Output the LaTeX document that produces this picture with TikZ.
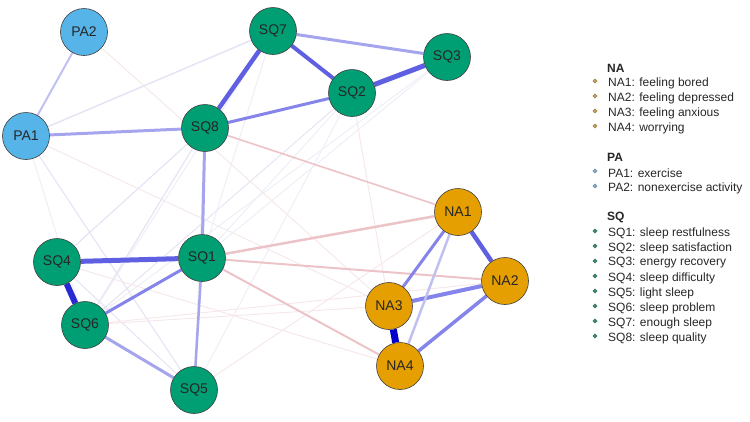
\documentclass[tikz,border=0pt]{standalone}
\usepackage{fontspec}
\setmainfont{Liberation Sans}
\usetikzlibrary{backgrounds,shapes.geometric}
\definecolor{cPA}{RGB}{86,180,233}
\definecolor{cSQ}{RGB}{0,158,115}
\definecolor{cNA}{RGB}{230,159,0}
\definecolor{bdk}{RGB}{0,0,205}
\definecolor{bsq}{RGB}{40,40,212}
\definecolor{bth}{RGB}{95,95,226}
\definecolor{bmd}{RGB}{132,132,234}
\definecolor{blt}{RGB}{165,165,238}
\definecolor{bvl}{RGB}{192,192,242}
\definecolor{bfa}{RGB}{228,228,244}
\definecolor{bxf}{RGB}{238,238,247}
\definecolor{rmd}{RGB}{236,196,200}
\definecolor{rfa}{RGB}{246,232,234}
\definecolor{lgNA}{RGB}{200,160,90}
\definecolor{lgPA}{RGB}{130,176,210}
\definecolor{lgSQ}{RGB}{60,140,110}
\tikzset{
  nd/.style={circle, draw=black!75, line width=0.6pt, minimum size=47pt, inner sep=0pt, text=black!85, font=\fontsize{14}{14}\selectfont},
  pa/.style={nd, fill=cPA},
  sq/.style={nd, fill=cSQ},
  na/.style={nd, fill=cNA},
  ed/.style 2 args={line width=#1, draw=#2},
  lg/.style={anchor=west, text=black!85, font=\fontsize{12}{12}\selectfont, inner sep=0pt},
  lh/.style={anchor=west, text=black!85, font=\fontsize{12}{12}\selectfont\bfseries, inner sep=0pt},
  bul/.style={diamond, inner sep=0pt, minimum size=4.5pt, draw=#1!70!black, line width=0.3pt, fill=#1}
}
\begin{document}
\begin{tikzpicture}[x=1pt,y=-1pt]
\useasboundingbox (0,0) rectangle (750,421);
% nodes
\node[pa] (PA2) at (84,32) {PA2};
\node[pa] (PA1) at (26,136) {PA1};
\node[sq] (SQ7) at (273,31) {SQ7};
\node[sq] (SQ8) at (205,128) {SQ8};
\node[sq] (SQ2) at (352,93) {SQ2};
\node[sq] (SQ3) at (447,57) {SQ3};
\node[sq] (SQ4) at (57,262) {SQ4};
\node[sq] (SQ1) at (202,258) {SQ1};
\node[sq] (SQ6) at (85,325) {SQ6};
\node[sq] (SQ5) at (194,390) {SQ5};
\node[na] (NA1) at (458,212) {NA1};
\node[na] (NA2) at (505,281) {NA2};
\node[na] (NA3) at (389,306) {NA3};
\node[na] (NA4) at (400,366) {NA4};
\begin{pgfonlayer}{background}
% faint edges
\draw[ed={1pt}{bxf}] (PA1) -- (SQ6);
\draw[ed={1.1pt}{bfa}] (PA1) -- (SQ5);
\draw[ed={1pt}{rfa}] (PA1) -- (NA3);
\draw[ed={1.2pt}{bfa}] (SQ8) -- (SQ4);
\draw[ed={1.2pt}{bfa}] (SQ8) -- (SQ6);
\draw[ed={1pt}{bxf}] (SQ8) -- (SQ5);
\draw[ed={1pt}{bxf}] (SQ2) -- (SQ1);
\draw[ed={1pt}{bfa}] (SQ2) -- (SQ6);
\draw[ed={1pt}{bxf}] (SQ2) -- (SQ5);
\draw[ed={1pt}{bxf}] (SQ7) -- (SQ1);
\draw[ed={1pt}{bxf}] (SQ3) -- (SQ1);
\draw[ed={1pt}{bxf}] (SQ3) -- (SQ6);
\draw[ed={1pt}{bfa}] (SQ4) -- (SQ5);
\draw[ed={1pt}{bxf}] (SQ7) -- (SQ6);
\draw[ed={1pt}{rfa}] (PA2) -- (NA3);
\draw[ed={1pt}{rfa}] (SQ6) -- (NA2);
\draw[ed={1pt}{rfa}] (SQ6) -- (NA3);
\draw[ed={1pt}{rfa}] (SQ4) -- (NA4);
\draw[ed={1pt}{rfa}] (SQ5) -- (NA1);
\draw[ed={1pt}{rfa}] (SQ2) -- (NA3);
% red edges
\draw[ed={1.6pt}{rmd}] (SQ8) -- (NA1);
\draw[ed={2.5pt}{rmd}] (SQ1) -- (NA1);
\draw[ed={2pt}{rmd}] (SQ1) -- (NA2);
\draw[ed={2pt}{rmd}] (SQ1) -- (NA4);
% blue edges
\draw[ed={1.5pt}{bfa}] (PA1) -- (SQ7);
\draw[ed={2pt}{bvl}] (PA2) -- (PA1);
\draw[ed={3pt}{blt}] (PA1) -- (SQ8);
\draw[ed={3pt}{blt}] (SQ8) -- (SQ1);
\draw[ed={3pt}{blt}] (SQ7) -- (SQ3);
\draw[ed={3pt}{bmd}] (SQ8) -- (SQ2);
\draw[ed={4.5pt}{bth}] (SQ7) -- (SQ8);
\draw[ed={4pt}{bth}] (SQ7) -- (SQ2);
\draw[ed={5pt}{bth}] (SQ2) -- (SQ3);
\draw[ed={5pt}{bth}] (SQ4) -- (SQ1);
\draw[ed={6pt}{bsq}] (SQ4) -- (SQ6);
\draw[ed={3pt}{bmd}] (SQ1) -- (SQ6);
\draw[ed={3pt}{blt}] (SQ6) -- (SQ5);
\draw[ed={2.5pt}{blt}] (SQ1) -- (SQ5);
\draw[ed={4.5pt}{bth}] (NA1) -- (NA2);
\draw[ed={4pt}{bmd}] (NA3) -- (NA2);
\draw[ed={3.5pt}{bmd}] (NA4) -- (NA2);
\draw[ed={3pt}{bmd}] (NA1) -- (NA3);
\draw[ed={2.5pt}{bvl}] (NA1) -- (NA4);
\draw[ed={7pt}{bdk}] (NA3) -- (NA4);
\end{pgfonlayer}
% legend
\node[lh] (hNA) at (607,68) {NA};
\node[lg] (l1) at (608,83) {NA1: feeling bored};
\node[lg] (l2) at (608,98) {NA2: feeling depressed};
\node[lg] (l3) at (608,113) {NA3: feeling anxious};
\node[lg] (l4) at (608,128) {NA4: worrying};
\node[lh] (hPA) at (607,157) {PA};
\node[lg] (l5) at (608,173) {PA1: exercise};
\node[lg] (l6) at (608,188) {PA2: nonexercise activity};
\node[lh] (hSQ) at (607,217) {SQ};
\node[lg] (l7) at (608,233) {SQ1: sleep restfulness};
\node[lg] (l8) at (608,248) {SQ2: sleep satisfaction};
\node[lg] (l9) at (608,263) {SQ3: energy recovery};
\node[lg] (l10) at (608,278) {SQ4: sleep difficulty};
\node[lg] (l11) at (608,293) {SQ5: light sleep};
\node[lg] (l12) at (608,308) {SQ6: sleep problem};
\node[lg] (l13) at (608,323) {SQ7: enough sleep};
\node[lg] (l14) at (608,338) {SQ8: sleep quality};
\foreach \y in {81,96,111,126} \node[bul=lgNA] at (595,\y) {};
\foreach \y in {171,186} \node[bul=lgPA] at (595,\y) {};
\foreach \y in {231,246,261,276,291,306,321,336} \node[bul=lgSQ] at (595,\y) {};
\end{tikzpicture}
\end{document}
